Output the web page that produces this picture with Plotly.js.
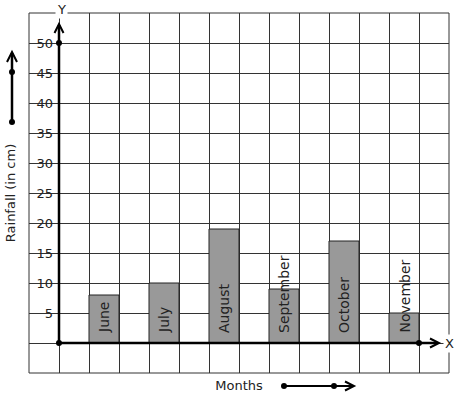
<!DOCTYPE html>
<html>
<head>
<meta charset="utf-8">
<script src="https://cdn.plot.ly/plotly-3.0.1.min.js"></script>
<style>html,body{margin:0;padding:0;background:#fff;}#chart{width:457px;height:399px;}</style>
</head>
<body>
<div id="chart"></div>
<script>
const months = ['June', 'July', 'August', 'September', 'October', 'November'];
const rainfall = [8, 10, 19, 9, 17, 5];
const yTickVals = [-5, 0, 5, 10, 15, 20, 25, 30, 35, 40, 45, 50, 55];
const yTickText = ['', '', '5', '10', '15', '20', '25', '30', '35', '40', '45', '50', ''];
const xTitle = 'Months';
const yTitle = 'Rainfall (in cm)';

const barX = months.map((m, i) => 1.5 + 2 * i);
const FONT = 'DejaVu Sans, sans-serif';
const INK = '#222';

const trace = {
  type: 'bar',
  x: barX,
  y: rainfall,
  width: 1,
  marker: {color: '#999999', line: {color: '#222', width: 1}},
  hoverinfo: 'skip'
};

const annotations = months.map((m, i) => ({
  xref: 'x', yref: 'y', x: barX[i], y: 0,
  text: m, showarrow: false, textangle: -90,
  yanchor: 'bottom', xanchor: 'center', yshift: 8,
  font: {family: FONT, size: 14, color: INK}
}));
annotations.push(
  {xref: 'paper', yref: 'paper', x: (61 - 29) / 420, y: (373 - 9) / 360, text: 'Y', showarrow: false,
   bgcolor: '#fff', font: {family: FONT, size: 13, color: INK}, xanchor: 'center', yanchor: 'middle'},
  {xref: 'paper', yref: 'paper', x: (449 - 29) / 420, y: (373 - 343) / 360, text: 'X', showarrow: false,
   bgcolor: '#fff', font: {family: FONT, size: 13, color: INK}, xanchor: 'center', yanchor: 'middle'}
);

function dot(xref, yref, xa, ya) {
  return {type: 'circle', xref: xref, yref: yref, xsizemode: 'pixel', ysizemode: 'pixel',
    xanchor: xa, yanchor: ya, x0: -3, x1: 3, y0: -3, y1: 3,
    fillcolor: '#000', line: {color: '#000', width: 0}};
}
function head(xref, yref, xa, ya, path) {
  return {type: 'path', xref: xref, yref: yref, xsizemode: 'pixel', ysizemode: 'pixel',
    xanchor: xa, yanchor: ya, path: path, line: {color: '#000', width: 2}};
}

const yTip = (343 - 24) / 6;
const xTip = (439 - 59) / 30;
const shapes = [
  {type: 'rect', xref: 'paper', yref: 'paper', x0: 0, x1: 1, y0: 0, y1: 1, line: {color: '#333', width: 1}, layer: 'below'},
  // y axis
  {type: 'line', xref: 'x', yref: 'y', x0: 0, x1: 0, y0: 0, y1: yTip - 0.2, line: {color: '#000', width: 2.5}},
  head('x', 'y', 0, yTip, 'M-4.5,-9 L0,0 L4.5,-9'),
  dot('x', 'y', 0, 0), dot('x', 'y', 0, 50),
  // x axis
  {type: 'line', xref: 'x', yref: 'y', x0: 0, x1: xTip - 0.05, y0: 0, y1: 0, line: {color: '#000', width: 2.5}},
  head('x', 'y', xTip, 0, 'M-9,-4.5 L0,0 L-9,4.5'),
  dot('x', 'y', 12, 0),
  // left decorative arrow
  {type: 'line', xref: 'paper', yref: 'paper', x0: (12 - 29) / 420, x1: (12 - 29) / 420,
   y0: (373 - 122) / 360, y1: (373 - 53) / 360, line: {color: '#000', width: 2.5}},
  head('paper', 'paper', (12 - 29) / 420, (373 - 52) / 360, 'M-5,-10 L0,0 L5,-10'),
  dot('paper', 'paper', (12 - 29) / 420, (373 - 122) / 360),
  dot('paper', 'paper', (12 - 29) / 420, (373 - 72) / 360),
  // bottom decorative arrow
  {type: 'line', xref: 'paper', yref: 'paper', x0: (284 - 29) / 420, x1: (352 - 29) / 420,
   y0: (373 - 386) / 360, y1: (373 - 386) / 360, line: {color: '#000', width: 2}},
  head('paper', 'paper', (354 - 29) / 420, (373 - 386) / 360, 'M-9,-4.5 L0,0 L-9,4.5'),
  dot('paper', 'paper', (284 - 29) / 420, (373 - 386) / 360),
  dot('paper', 'paper', (334 - 29) / 420, (373 - 386) / 360)
];

const layout = {
  width: 457, height: 399,
  margin: {l: 29, r: 8, t: 13, b: 26, pad: 0},
  paper_bgcolor: '#fff', plot_bgcolor: '#fff',
  showlegend: false,
  font: {family: FONT, size: 13, color: INK},
  xaxis: {
    range: [-1, 13], tick0: 0, dtick: 1, showgrid: true, gridcolor: '#333', gridwidth: 1,
    zeroline: false, showticklabels: false, ticks: '', showline: false, fixedrange: true,
    title: {text: xTitle, font: {family: FONT, size: 13, color: INK}, standoff: 7}
  },
  yaxis: {
    range: [-5, 55], tickmode: 'array', tickvals: yTickVals, ticktext: yTickText,
    showgrid: true, gridcolor: '#333', gridwidth: 1, zeroline: false, ticks: '',
    anchor: 'free', position: 1 / 14, showline: false, fixedrange: true,
    tickfont: {family: FONT, size: 13, color: INK}, ticklabelstandoff: 6,
    title: {text: yTitle, font: {family: FONT, size: 13, color: INK}, standoff: 16}
  },
  shapes: shapes,
  annotations: annotations
};

Plotly.newPlot('chart', [trace], layout, {staticPlot: true, displayModeBar: false});
</script>
</body>
</html>
